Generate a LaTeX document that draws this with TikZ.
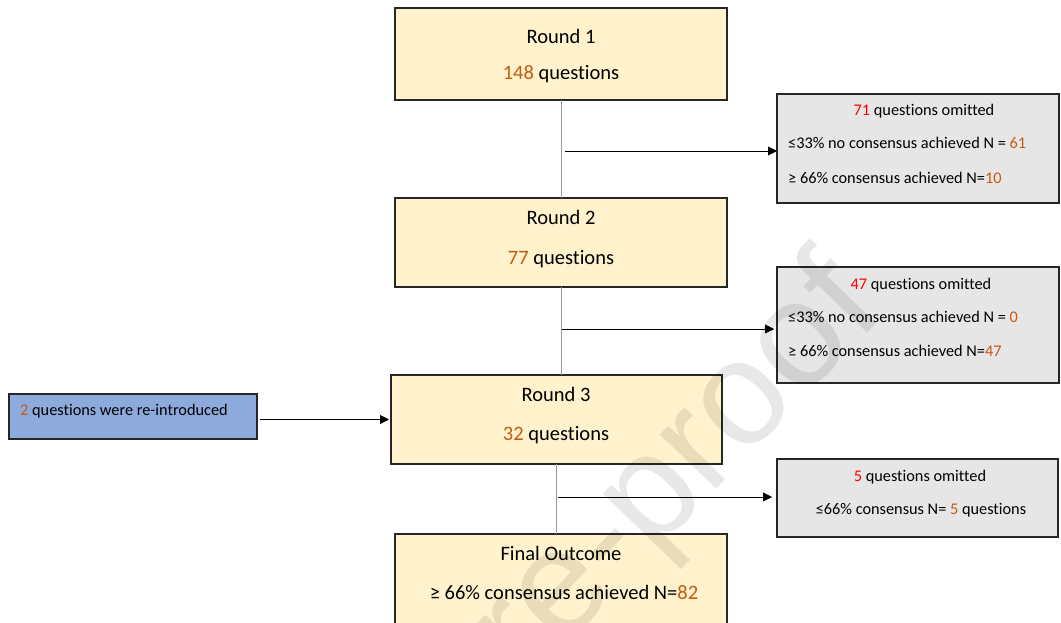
\documentclass[tikz,border=0pt]{standalone}
\usepackage{fontspec}
\setmainfont{Carlito}[Ligatures=NoCommon]
\newfontfamily\wmfont{Liberation Sans}
\usetikzlibrary{arrows.meta}
\definecolor{cream}{HTML}{FFF2CC}
\definecolor{boxgray}{HTML}{E7E6E6}
\definecolor{boxblue}{HTML}{8EA9DB}
\definecolor{numor}{HTML}{C55A11}
\definecolor{numred}{HTML}{FF0000}
\newcommand{\onum}[1]{\textcolor{numor}{#1}}
\newcommand{\rnum}[1]{\textcolor{numred}{#1}}
\begin{document}
\begin{tikzpicture}[x=1pt,y=-1pt,
 box/.style={draw=black!85, line width=1.3pt, inner sep=0pt, outer sep=0pt},
 roundbox/.style={box, fill=cream},
 omitbox/.style={box, fill=boxgray},
 addbox/.style={box, fill=boxblue},
 big/.style={font=\fontsize{20.5}{24}\selectfont, inner sep=0pt, anchor=base},
 small/.style={font=\fontsize{16.3}{19}\selectfont, inner sep=0pt, anchor=base},
 smallL/.style={small, anchor=base west},
 vline/.style={draw=black!40, line width=0.9pt},
 arr/.style={draw=black, line width=0.9pt, -{Triangle[length=9pt,width=9pt]}},
]
\useasboundingbox (0,0) rectangle (1061,623);
\clip (0,0) rectangle (1061,623);
\fill[white] (0,0) rectangle (1061,623);

% main boxes
\node[roundbox, minimum width=332pt, minimum height=92pt] (r1) at (561,54) {};
\node[roundbox, minimum width=332pt, minimum height=89pt] (r2) at (561,242.5) {};
\node[roundbox, minimum width=331pt, minimum height=89pt] (r3) at (556.5,419.5) {};
\node[roundbox, minimum width=332pt, minimum height=106pt] (fin) at (561,587) {};

% side boxes
\node[omitbox, minimum width=282pt, minimum height=109pt] (o1) at (918,148.5) {};
\node[omitbox, minimum width=282pt, minimum height=116pt] (o2) at (918,325) {};
\node[omitbox, minimum width=281pt, minimum height=78pt] (o3) at (917.5,498) {};
\node[addbox, minimum width=248pt, minimum height=45pt] (add) at (133,416.5) {};

% texts
\node[big] (t1a) at (561,44) {Round 1};
\node[big] (t1b) at (561,80) {\onum{148} questions};
\node[big] (t2a) at (561,224) {Round 2};
\node[big] (t2b) at (561,264) {\onum{77} questions};
\node[big] (t3a) at (556,401) {Round 3};
\node[big] (t3b) at (556,440) {\onum{32} questions};
\node[big] (tfa) at (561,560) {Final Outcome};
\node[big] (tfb) at (564,599) {≥ 66\% consensus achieved N=\onum{82}};

\node[small] (s1a) at (924,116) {\rnum{71} questions omitted};
\node[smallL] (s1b) at (788,149) {≤33\% no consensus achieved N = \onum{61}};
\node[smallL] (s1c) at (788,183) {≥ 66\% consensus achieved N=\onum{10}};

\node[small] (s2a) at (921,289) {\rnum{47} questions omitted};
\node[smallL] (s2b) at (788,322) {≤33\% no consensus achieved N = \onum{0}};
\node[smallL] (s2c) at (788,356) {≥ 66\% consensus achieved N=\onum{47}};

\node[small] (s3a) at (920,481) {\rnum{5} questions omitted};
\node[small] (s3b) at (921,514) {≤66\% consensus N= \onum{5} questions};

\node[smallL] (sadd) at (20,415) {\onum{2} questions were re-introduced};

% connectors
\draw[vline] (r1.south) -- (r2.north);
\draw[vline] (r2.south) -- (r2.south |- r3.north);
\draw[vline] (r3.south) -- (r3.south |- fin.north);

\coordinate (a1) at (565,151);
\coordinate (a2) at (562,329);
\coordinate (a3) at (558,497);
\draw[arr] (a1) -- (a1 -| o1.west);
\draw[arr] (a2) -- ([xshift=-3pt]a2 -| o2.west);
\draw[arr] (a3) -- ([xshift=-5pt]a3 -| o3.west);
\draw[arr] ([xshift=3pt]add.east |- r3.west) -- ([xshift=-2pt]r3.west);

% watermark
\node[font=\wmfont\fontsize{148}{150}\selectfont, text=black, text opacity=0.09, rotate=46, inner sep=0pt] (wm) at (645,508) {Pre-proof};
\end{tikzpicture}
\end{document}
